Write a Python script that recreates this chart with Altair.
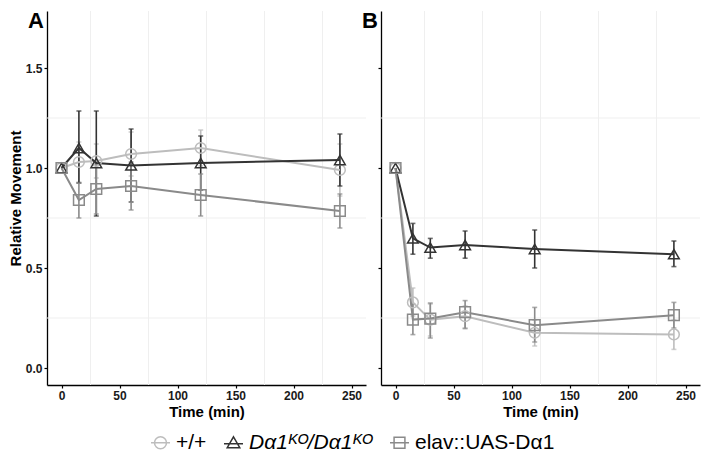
import altair as alt
import pandas as pd

panels = ["A", "B"]
genotypes = ["+/+", "Dα1ᴷᴼ/Dα1ᴷᴼ", "elav::UAS-Dα1"]
times = [0, 15, 30, 60, 120, 240]

# Panel A (mean, lower, upper)
a_wt_mean = [1.00, 1.03, 1.035, 1.07, 1.10, 0.99]
a_wt_lo = [1.00, 0.93, 0.95, 0.96, 1.01, 0.86]
a_wt_hi = [1.00, 1.13, 1.12, 1.18, 1.19, 1.12]
a_ko_mean = [1.00, 1.10, 1.025, 1.013, 1.025, 1.04]
a_ko_lo = [1.00, 0.925, 0.76, 0.83, 0.89, 0.91]
a_ko_hi = [1.00, 1.285, 1.285, 1.195, 1.16, 1.17]
a_el_mean = [1.00, 0.84, 0.895, 0.91, 0.865, 0.785]
a_el_lo = [1.00, 0.75, 0.77, 0.79, 0.76, 0.70]
a_el_hi = [1.00, 0.925, 1.02, 1.03, 0.97, 0.87]

# Panel B (mean, lower, upper)
b_wt_mean = [1.00, 0.328, 0.242, 0.259, 0.176, 0.168]
b_wt_lo = [1.00, 0.26, 0.16, 0.20, 0.11, 0.093]
b_wt_hi = [1.00, 0.40, 0.32, 0.31, 0.24, 0.24]
b_ko_mean = [1.00, 0.648, 0.602, 0.615, 0.595, 0.569]
b_ko_lo = [1.00, 0.569, 0.549, 0.549, 0.50, 0.507]
b_ko_hi = [1.00, 0.723, 0.648, 0.685, 0.69, 0.635]
b_el_mean = [1.00, 0.242, 0.247, 0.279, 0.214, 0.264]
b_el_lo = [1.00, 0.167, 0.15, 0.197, 0.13, 0.20]
b_el_hi = [1.00, 0.32, 0.325, 0.337, 0.303, 0.328]

x_ticks = [0, 50, 100, 150, 200, 250]
y_ticks = [0.0, 0.5, 1.0, 1.5]
x_minor = [25, 75, 125, 175, 225]
y_minor = [0.25, 0.75, 1.25]

colors = ["#bdbdbd", "#333333", "#8a8a8a"]
shapes = ["circle", "triangle-up", "square"]
# legend key glyphs (symbol + horizontal line), unit box -1..1
key_paths = [
    "M-0.63,0A0.63,0.63,0,1,1,0.63,0A0.63,0.63,0,1,1,-0.63,0Z M-1,0L1,0",
    "M0,-0.62L0.66,0.52L-0.66,0.52Z M-1,0.1L1,0.1",
    "M-0.57,-0.57L0.57,-0.57L0.57,0.57L-0.57,0.57Z M-1,0L1,0",
]

series = {
    "A": [(a_wt_mean, a_wt_lo, a_wt_hi), (a_ko_mean, a_ko_lo, a_ko_hi), (a_el_mean, a_el_lo, a_el_hi)],
    "B": [(b_wt_mean, b_wt_lo, b_wt_hi), (b_ko_mean, b_ko_lo, b_ko_hi), (b_el_mean, b_el_lo, b_el_hi)],
}

rows = []
for p in panels:
    for g, (m, lo, hi) in zip(genotypes, series[p]):
        for t, mv, l, h in zip(times, m, lo, hi):
            rows.append({"panel": p, "genotype": g, "time": t, "mean": mv, "lo": l, "hi": h})
df = pd.DataFrame(rows)

FONT = "Liberation Sans"
W, H = 319, 374
LEG_X, LEG_Y = 103, 421
xscale = alt.Scale(domain=[-12.5, 262.5], nice=False, zero=False)
yscale = alt.Scale(domain=[-0.085, 1.785], nice=False, zero=False)
italic_expr = f"datum.label == '{genotypes[1]}' ? 'italic' : 'normal'"


def panel_chart(p, first):
    d = df[df.panel == p]
    x_axis = alt.Axis(values=x_ticks, title="Time (min)", grid=False, labelPadding=2, titlePadding=3)
    if first:
        y_axis = alt.Axis(values=y_ticks, format=".1f", title="Relative Movement", grid=False,
                          labelPadding=2, titlePadding=2)
    else:
        y_axis = alt.Axis(values=y_ticks, labels=False, title=None, grid=False)

    def X(f):
        return alt.X(f, scale=xscale, axis=x_axis)

    def Y(f):
        return alt.Y(f, scale=yscale, axis=y_axis)

    layers = []
    layers.append(
        alt.Chart(pd.DataFrame({"gx": x_minor})).mark_rule(color="#efefef", strokeWidth=1)
        .encode(x=X("gx:Q"))
    )
    layers.append(
        alt.Chart(pd.DataFrame({"gy": y_minor})).mark_rule(color="#efefef", strokeWidth=1)
        .encode(y=Y("gy:Q"))
    )

    base = alt.Chart(d)
    # error bars
    for g, c in zip(genotypes, colors):
        sub = base.transform_filter(alt.datum.genotype == g).transform_filter(alt.datum.hi > alt.datum.lo)
        layers.append(
            sub.mark_rule(color=c, strokeWidth=1.6).encode(x=X("time:Q"), y=Y("lo:Q"), y2="hi:Q")
        )
        for fld in ["lo", "hi"]:
            layers.append(
                sub.mark_tick(color=c, orient="horizontal", size=5, thickness=1.6).encode(
                    x=X("time:Q"), y=Y(f"{fld}:Q"))
            )
    # lines
    for g, c in zip(genotypes, colors):
        sub = base.transform_filter(alt.datum.genotype == g)
        layers.append(sub.mark_line(color=c, strokeWidth=2).encode(x=X("time:Q"), y=Y("mean:Q")))
    # points
    for g, c, s in zip(genotypes, colors, shapes):
        sub = base.transform_filter(alt.datum.genotype == g)
        layers.append(
            sub.mark_point(shape=s, color=c, filled=False, size=115, strokeWidth=1.5, opacity=1).encode(
                x=X("time:Q"), y=Y("mean:Q"))
        )
    # legend carrier
    if first:
        leg = alt.Legend(title=None, orient="none", direction="horizontal", legendX=LEG_X, legendY=LEG_Y,
                         labelFontStyle=alt.ExprRef(expr=italic_expr))
        layers.append(
            base.mark_point(opacity=0, filled=False).encode(
                x=X("time:Q"), y=Y("mean:Q"),
                color=alt.Color("genotype:N", scale=alt.Scale(domain=genotypes, range=colors), legend=leg),
                shape=alt.Shape("genotype:N", scale=alt.Scale(domain=genotypes, range=key_paths), legend=leg),
            )
        )
    # panel label
    layers.append(
        alt.Chart(pd.DataFrame({"lab": [p]})).mark_text(
            align="right", baseline="alphabetic", fontSize=22, fontWeight="bold",
            color="black", x=-3, y=17, font=FONT).encode(text="lab:N")
    )
    return alt.layer(*layers).properties(width=W, height=H)


chart = alt.hconcat(panel_chart("A", True), panel_chart("B", False), spacing=15, bounds="flush").properties(
    padding={"left": 0, "top": 2, "right": 0, "bottom": 0}
).configure(font=FONT).configure_view(stroke=None).configure_axis(
    domainColor="black", domainWidth=1.3, tickColor="black", tickSize=3, tickWidth=1.2,
    labelFont=FONT, labelFontWeight="bold", labelFontSize=12, labelColor="#1a1a1a",
    titleFont=FONT, titleFontWeight="bold", titleFontSize=15, titleColor="black",
).configure_legend(
    labelFont=FONT, labelFontSize=21, labelColor="black", symbolStrokeWidth=1.5,
    symbolSize=361, symbolOpacity=1, symbolFillColor="transparent", columnPadding=14,
    labelOffset=5,
)

chart.save("out.html", embed_options={"renderer": "svg", "actions": False})
